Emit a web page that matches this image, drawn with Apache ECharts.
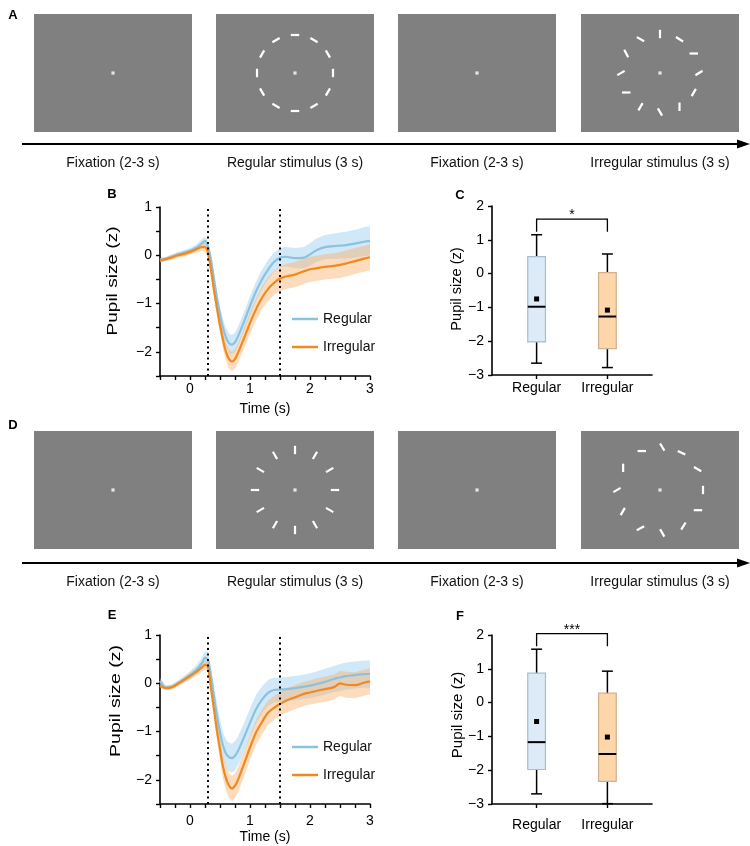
<!DOCTYPE html>
<html>
<head>
<meta charset="utf-8">
<script src="https://cdn.jsdelivr.net/npm/echarts@6/dist/echarts.min.js"></script>
<style>html,body{margin:0;padding:0;background:#fff}#c{width:750px;height:846px}</style>
</head>
<body>
<div id="c"></div>
<script>
// ---------------- data ----------------
const groups = ['Regular', 'Irregular'];
const stimLabels = ['Fixation (2-3 s)', 'Regular stimulus (3 s)', 'Fixation (2-3 s)', 'Irregular stimulus (3 s)'];
// stimulus dash positions (deg around fixation) and orientations (deg)
const stimAngles = [90, 60, 30, 0, -30, -60, -90, -120, -150, 180, 150, 120];
const orientRegA = [0, -30, -60, 90, 60, 30, 0, -30, -60, 90, 60, 30];
const orientIrrA = [90, -32, 0, 32, 60, 90, -60, 60, 0, 30, -62, -30];
const orientRegD = [90, 60, 30, 0, -30, -60, 90, 60, 30, 0, -30, -60];
const anglesIrrD = [115, 87, 60, 29, 0, -28, -57, -87, -117, -150, 180, 149];
const orientIrrD = [0, -59, -26, -30, 90, 0, 58, -60, 28, 60, 30, 90];

const time = [-0.5,-0.4,-0.3,-0.2,-0.1,0,0.1,0.2,0.25,0.3,0.35,0.4,0.45,0.5,0.55,0.6,0.65,0.7,0.75,0.8,0.9,1.0,1.1,1.2,1.3,1.4,1.5,1.6,1.75,1.9,2.0,2.1,2.25,2.4,2.5,2.6,2.75,2.9,3.0];
const stimWindow = [0.3, 1.5];

const regB = [-0.1,-0.07,-0.03,0.02,0.05,0.09,0.15,0.25,0.3,0.18,-0.1,-0.5,-0.9,-1.22,-1.5,-1.7,-1.82,-1.85,-1.8,-1.68,-1.38,-1.05,-0.75,-0.5,-0.3,-0.14,-0.05,-0.03,-0.06,-0.05,0.02,0.1,0.17,0.19,0.2,0.21,0.24,0.28,0.3];
const irrB = [-0.11,-0.08,-0.04,0,0.03,0.07,0.12,0.17,0.17,0.05,-0.3,-0.72,-1.1,-1.45,-1.75,-2.0,-2.15,-2.2,-2.15,-2.02,-1.72,-1.4,-1.12,-0.88,-0.7,-0.57,-0.48,-0.44,-0.4,-0.33,-0.29,-0.27,-0.24,-0.22,-0.2,-0.17,-0.12,-0.07,-0.04];
const regBse = [0.04,0.04,0.05,0.05,0.06,0.06,0.07,0.08,0.09,0.1,0.12,0.14,0.16,0.17,0.18,0.19,0.2,0.2,0.2,0.2,0.2,0.2,0.2,0.2,0.2,0.2,0.2,0.2,0.21,0.22,0.23,0.24,0.25,0.26,0.27,0.28,0.29,0.3,0.3];
const irrBse = [0.04,0.04,0.05,0.05,0.06,0.06,0.07,0.08,0.09,0.1,0.12,0.14,0.16,0.17,0.18,0.19,0.2,0.2,0.2,0.2,0.21,0.22,0.23,0.24,0.25,0.25,0.26,0.26,0.26,0.26,0.26,0.26,0.26,0.26,0.27,0.27,0.27,0.27,0.27];

const regE = [0.05,-0.09,-0.07,0,0.08,0.17,0.27,0.42,0.53,0.48,0.14,-0.27,-0.68,-1.02,-1.29,-1.46,-1.53,-1.55,-1.5,-1.4,-1.12,-0.82,-0.54,-0.34,-0.2,-0.14,-0.13,-0.12,-0.1,-0.07,-0.05,-0.02,0.03,0.09,0.12,0.15,0.17,0.19,0.19];
const irrE = [-0.05,-0.1,-0.08,-0.01,0.07,0.15,0.23,0.33,0.38,0.34,-0.1,-0.54,-0.99,-1.36,-1.73,-1.97,-2.12,-2.18,-2.12,-2.0,-1.67,-1.33,-1.02,-0.8,-0.61,-0.51,-0.43,-0.36,-0.29,-0.22,-0.19,-0.16,-0.12,-0.08,0,-0.03,-0.04,0.01,0.04];
const regEse = [0.06,0.05,0.05,0.06,0.07,0.08,0.1,0.12,0.14,0.15,0.18,0.22,0.25,0.27,0.28,0.29,0.3,0.3,0.3,0.3,0.3,0.3,0.3,0.28,0.27,0.26,0.25,0.25,0.25,0.25,0.26,0.26,0.27,0.27,0.28,0.28,0.28,0.28,0.28];
const irrEse = [0.04,0.04,0.05,0.05,0.06,0.07,0.08,0.09,0.1,0.11,0.14,0.17,0.2,0.22,0.24,0.25,0.26,0.26,0.26,0.26,0.26,0.26,0.26,0.26,0.25,0.25,0.25,0.25,0.25,0.25,0.25,0.26,0.26,0.26,0.26,0.27,0.27,0.27,0.27];

// box stats: [min, q1, median, q3, max, mean]
const boxC = [[-2.65,-2.02,-0.98,0.50,1.15,-0.75],[-2.78,-2.22,-1.27,0.03,0.58,-1.08]];
const boxF = [[-2.70,-1.98,-1.17,0.87,1.58,-0.56],[-2.99,-2.33,-1.52,0.28,0.93,-1.02]];
const sigC = ['*'];
const sigF = ['***'];
const bracketC = [1.61, 1.24];
const bracketF = [2.04, 1.67];

// ---------------- styles ----------------
const FONT = "'Liberation Sans', Arial, Helvetica, sans-serif";
const GRAY = '#808080';
const BLUE = '#89c3e0', ORANGE = '#f0891e';
const BLUE_BAND = 'rgba(150,205,240,0.45)', ORANGE_BAND = 'rgba(248,178,108,0.45)';
const fmt = v => String(v).replace('-', '\u2212');

const chart = echarts.init(document.getElementById('c'), null, {renderer: 'canvas'});

const grids = [], xAxes = [], yAxes = [], series = [];

// stimulus panels
const stimCols = [34, 216, 398, 581];
const stimRows = [14, 431];
const panels = [
  null, {ang: stimAngles, ori: orientRegA, r: 38}, null, {ang: stimAngles, ori: orientIrrA, r: 39},
  null, {ang: stimAngles, ori: orientRegD, r: 40}, null, {ang: anglesIrrD, ori: orientIrrD, r: 43}
];
panels.forEach((p, i) => {
  const row = Math.floor(i / 4), col = i % 4;
  grids.push({left: stimCols[col], top: stimRows[row], width: 158, height: 118, show: true, backgroundColor: GRAY, borderWidth: 0});
  xAxes.push({gridIndex: i, type: 'value', min: -79, max: 79, show: false});
  yAxes.push({gridIndex: i, type: 'value', min: -59, max: 59, show: false});
  series.push({type: 'scatter', xAxisIndex: i, yAxisIndex: i, data: [[0, 0]], symbol: 'rect', symbolSize: 3.2, itemStyle: {color: '#fff'}, silent: true});
  if (p) {
    const r = p.r;
    series.push({
      type: 'custom', xAxisIndex: i, yAxisIndex: i, silent: true,
      data: p.ang.map((a, k) => [a, p.ori[k]]),
      renderItem: (params, api) => {
        const a = api.value(0) * Math.PI / 180, o = api.value(1) * Math.PI / 180;
        const c = api.coord([r * Math.cos(a), r * Math.sin(a)]);
        const h = 4.2;
        return {type: 'line', shape: {x1: c[0] - h * Math.cos(o), y1: c[1] + h * Math.sin(o), x2: c[0] + h * Math.cos(o), y2: c[1] - h * Math.sin(o)},
          style: {stroke: '#fff', lineWidth: 2.2}};
      }
    });
  }
});

const axisLineStyle = {show: true, onZero: false, lineStyle: {color: '#000', width: 1.6}};
const axisTickStyle = {show: true, length: 4, lineStyle: {color: '#000', width: 1.4}};
const labelStyle = {color: '#000', fontSize: 14, fontFamily: FONT};

// time course panels
function addTimeCourse(gi, top, reg, regSe, irr, irrSe, labelMargin) {
  grids.push({left: 160, top: top, width: 210, height: 169});
  xAxes.push({gridIndex: gi, type: 'value', min: -0.5, max: 3, interval: 0.25,
    axisLine: axisLineStyle, axisTick: axisTickStyle, splitLine: {show: false},
    axisLabel: Object.assign({margin: labelMargin, formatter: v => Math.abs(v - Math.round(v)) < 1e-6 ? fmt(Math.round(v)) : ''}, labelStyle),
    name: 'Time (s)', nameLocation: 'middle', nameGap: 26, nameTextStyle: labelStyle});
  yAxes.push({gridIndex: gi, type: 'value', min: -2.5, max: 1, interval: 0.5,
    axisLine: axisLineStyle, axisTick: axisTickStyle, splitLine: {show: false},
    axisLabel: Object.assign({margin: 8, formatter: v => Math.abs(v - Math.round(v)) < 1e-6 ? fmt(Math.round(v)) : ''}, labelStyle)});
  // SEM band drawn as one polygon through the axis scales
  const band = (mean, se, color) => {
    const data = time.map((t, k) => [t, mean[k] - se[k], mean[k] + se[k]]);
    series.push({type: 'custom', xAxisIndex: gi, yAxisIndex: gi, silent: true, data: data,
      encode: {x: 0, y: [1, 2]},
      renderItem: (params, api) => {
        if (params.dataIndex !== 0) return null;
        const up = data.map(d => api.coord([d[0], d[2]]));
        const dn = data.map(d => api.coord([d[0], d[1]])).reverse();
        return {type: 'polygon', shape: {points: up.concat(dn)}, style: {fill: color}};
      }});
  };
  band(reg, regSe, BLUE_BAND);
  series.push({type: 'line', name: 'Regular', xAxisIndex: gi, yAxisIndex: gi, data: time.map((t, k) => [t, reg[k]]),
    smooth: 0.3, symbol: 'none', lineStyle: {color: BLUE, width: 2.2}, itemStyle: {color: BLUE}});
  band(irr, irrSe, ORANGE_BAND);
  series.push({type: 'line', name: 'Irregular', xAxisIndex: gi, yAxisIndex: gi, data: time.map((t, k) => [t, irr[k]]),
    smooth: 0.3, symbol: 'none', lineStyle: {color: ORANGE, width: 2.2}, itemStyle: {color: ORANGE},
    markLine: {silent: true, symbol: ['none', 'none'], label: {show: false}, animation: false,
      lineStyle: {color: '#000', type: [2, 3.5], width: 2}, data: stimWindow.map(v => ({xAxis: v}))}});
}

// box panels
function addBoxes(gi, top, stats, bracket, sig, labelMargin) {
  grids.push({left: 492, top: top, width: 160, height: 169});
  xAxes.push({gridIndex: gi, type: 'value', min: 0.37, max: 2.63,
    axisLine: axisLineStyle, axisTick: Object.assign({customValues: [1, 2]}, axisTickStyle), splitLine: {show: false},
    axisLabel: Object.assign({margin: labelMargin, customValues: [1, 2], formatter: v => groups[Math.round(v) - 1] || ''}, labelStyle)});
  yAxes.push({gridIndex: gi, type: 'value', min: -3, max: 2, interval: 1,
    axisLine: axisLineStyle, axisTick: axisTickStyle, splitLine: {show: false},
    axisLabel: Object.assign({margin: 8, formatter: fmt}, labelStyle)});
  const fills = ['#dcebf7', '#fdd6a9'], strokes = ['#a9bdcc', '#d2b08e'];
  series.push({type: 'custom', xAxisIndex: gi, yAxisIndex: gi, silent: true,
    data: stats.map((s, k) => [k + 1].concat(s)),
    encode: {x: 0, y: [1, 2, 3, 4, 5, 6]},
    renderItem: (params, api) => {
      const x = api.value(0);
      const p = i => api.coord([x, api.value(i)]);
      const lo = p(1), q1 = p(2), md = p(3), q3 = p(4), hi = p(5), mn = p(6);
      const bw = api.size([0.25, 0])[0], cw = api.size([0.155, 0])[0];
      const k = params.dataIndex, cx = lo[0];
      const ln = (x1, y1, x2, y2, w) => ({type: 'line', shape: {x1, y1, x2, y2}, style: {stroke: '#000', lineWidth: w}});
      return {type: 'group', children: [
        ln(cx, lo[1], cx, hi[1], 1.5),
        ln(cx - cw / 2, lo[1], cx + cw / 2, lo[1], 1.5),
        ln(cx - cw / 2, hi[1], cx + cw / 2, hi[1], 1.5),
        {type: 'rect', shape: {x: cx - bw / 2, y: q3[1], width: bw, height: q1[1] - q3[1]}, style: {fill: fills[k], stroke: strokes[k], lineWidth: 1.2}},
        ln(cx - bw / 2, md[1], cx + bw / 2, md[1], 2),
        {type: 'rect', shape: {x: cx - 2.5, y: mn[1] - 2.5, width: 5, height: 5}, style: {fill: '#000'}}
      ]};
    }});
  series.push({type: 'custom', xAxisIndex: gi, yAxisIndex: gi, silent: true,
    data: [[1, 2, bracket[0], bracket[1]]], encode: {x: [0, 1], y: [2, 3]},
    renderItem: (params, api) => {
      const a = api.coord([api.value(0), api.value(2)]), b = api.coord([api.value(1), api.value(2)]);
      const ad = api.coord([api.value(0), api.value(3)]), bd = api.coord([api.value(1), api.value(3)]);
      return {type: 'group', children: [
        {type: 'polyline', shape: {points: [[ad[0], ad[1]], [a[0], a[1]], [b[0], b[1]], [bd[0], bd[1]]]}, style: {stroke: '#000', lineWidth: 1.3, fill: null}},
        {type: 'text', x: (a[0] + b[0]) / 2, y: a[1] + 3, style: {text: sig[params.dataIndex], font: '14px ' + FONT, fill: '#000', align: 'center', verticalAlign: 'bottom'}}
      ]};
    }});
}

addTimeCourse(8, 207, regB, regBse, irrB, irrBse, 6);
addBoxes(9, 206, boxC, bracketC, sigC, 6);
addTimeCourse(10, 635, regE, regEse, irrE, irrEse, 10);
addBoxes(11, 635, boxF, bracketF, sigF, 14);

// ---------------- graphic (labels, arrows) ----------------
const graphic = [];
const txt = (x, y, s, opt) => Object.assign({type: 'text', x, y, silent: true,
  style: {text: s, font: '14px ' + FONT, fill: '#111', align: 'center', verticalAlign: 'middle'}}, opt || {});
const bold = (x, y, s) => ({type: 'text', x, y, silent: true, style: {text: s, font: 'bold 13px ' + FONT, fill: '#000', align: 'center', verticalAlign: 'middle'}});
[144, 563].forEach((y, row) => {
  graphic.push({type: 'line', silent: true, shape: {x1: 22, y1: y, x2: 740, y2: y}, style: {stroke: '#000', lineWidth: 2}});
  graphic.push({type: 'polygon', silent: true, shape: {points: [[737, y - 4.5], [750, y], [737, y + 4.5]]}, style: {fill: '#000'}});
  stimLabels.forEach((s, c) => graphic.push(txt(stimCols[c] + 79, y + 19.5, s)));
});
graphic.push(bold(13, 15, 'A'), bold(13, 425, 'D'), bold(112, 194, 'B'), bold(112, 615, 'E'), bold(460, 195, 'C'), bold(460, 616, 'F'));
const ylab = (x, y, sc) => txt(x, y, 'Pupil size (z)', {rotation: Math.PI / 2, scaleX: sc, style: {text: 'Pupil size (z)', font: '14px ' + FONT, fill: '#000', align: 'center', verticalAlign: 'middle'}});
graphic.push(ylab(113, 281, 1.36), ylab(116, 701, 1.4), ylab(457, 289, 1.04), ylab(458, 715, 1.08));

const legendBase = {data: groups, orient: 'vertical', icon: 'rect', itemWidth: 26, itemHeight: 2.5, itemGap: 14, selectedMode: false,
  textStyle: {fontSize: 14, color: '#111', fontFamily: FONT}};

chart.setOption({
  animation: false,
  textStyle: {fontFamily: FONT},
  grid: grids, xAxis: xAxes, yAxis: yAxes, series: series,
  legend: [Object.assign({left: 287, top: 307}, legendBase), Object.assign({left: 287, top: 735}, legendBase)],
  graphic: graphic
});
</script>
</body>
</html>
